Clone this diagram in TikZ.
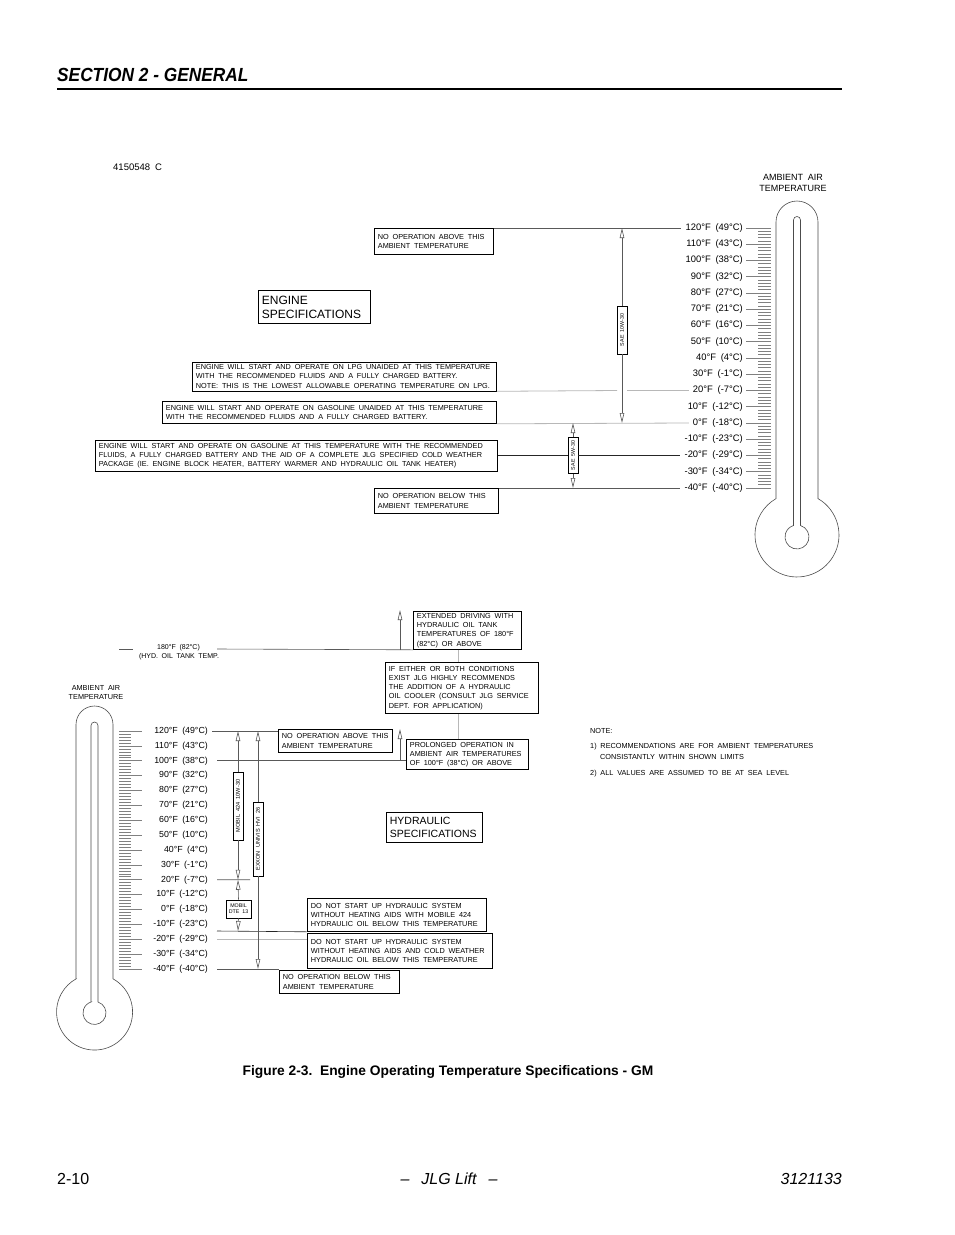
\documentclass[tikz,border=0pt]{standalone}
\usepackage{fontspec}
\setmainfont{Liberation Sans}
\usetikzlibrary{arrows.meta}
\newcommand{\wsp}{\spaceskip=0.52em plus 0.1em\relax}
\newcommand{\boxfont}{\fontsize{7.3}{9.2}\selectfont}
\newcommand{\ambAfont}{\fontsize{9}{11}\selectfont}
\newcommand{\ambBfont}{\fontsize{7.3}{9}\selectfont}
\newcommand{\hydfont}{\fontsize{7}{8}\selectfont}
\begin{document}
\begin{tikzpicture}[x=1pt,y=-1pt,
  conn/.style={draw=black!65,line width=0.6pt},
  lconn/.style={draw=black!28,line width=0.8pt},
  dconn/.style={draw=black!85,line width=0.6pt},
  oarr/.style={draw=black!65,line width=0.6pt,-{Triangle[open,length=10pt,width=4.5pt]}},
  box/.style={draw=black,line width=0.8pt,anchor=north west,align=left,inner xsep=3.5pt,inner ysep=0pt,font=\boxfont,execute at begin node=\wsp},
  lab/.style={inner sep=0pt,font=\fontsize{9.4}{10}\selectfont,anchor=east},
  blab/.style={inner sep=0pt,font=\fontsize{8.8}{10}\selectfont,anchor=east},
  rotlab/.style={draw=black,line width=0.7pt,rotate=90,minimum height=10pt,inner sep=1pt,font=\fontsize{5.3}{6}\selectfont,fill=white},
  thermo/.style={draw=black!70,line width=0.6pt},
  tickm/.style={draw=black!50,line width=0.6pt},
  txt/.style={inner sep=0pt,anchor=west,font=\boxfont,execute at begin node=\wsp},
]
\fill[white] (0,0) rectangle (954,1235);
\useasboundingbox (0,0) rectangle (954,1235);

% ---------- header / footer ----------
\node[anchor=base west,inner sep=0pt,font=\bfseries\itshape\fontsize{19}{20}\selectfont] (head) at (57,81) {\scalebox{0.91}[1]{SECTION 2 - GENERAL}};
\draw[line width=1.6pt] (57,89) -- (842,89);
\node[anchor=center,inner sep=0pt,font=\bfseries\fontsize{13.8}{15}\selectfont] (cap) at (448,1072) {Figure 2-3.\ \ Engine Operating Temperature Specifications - GM};
\node[anchor=base west,inner sep=0pt,font=\fontsize{16}{18}\selectfont] (pg) at (57,1184) {2-10};
\node[anchor=base,inner sep=0pt,font=\itshape\fontsize{16}{18}\selectfont] (jlg) at (449,1184) {--\hspace{0.75em}JLG Lift\hspace{0.75em}--};
\node[anchor=base east,inner sep=0pt,font=\itshape\fontsize{16}{18}\selectfont] (doc) at (842,1184) {3121133};

\node[txt,font=\fontsize{9.5}{10}\selectfont] (dwg) at (113,167) {4150548 C};

% ---------- top thermometer ----------
\node[align=center,inner sep=0pt,font=\ambAfont,execute at begin node=\wsp] (amb1) at (793,182.5) {AMBIENT AIR\\TEMPERATURE};
\draw[thermo] (776,498.6) -- (776,222) arc[start angle=180,end angle=360,radius=21] -- (818,498.6) arc[start angle=-60,end angle=240,radius=42] -- cycle;
\draw[thermo] (793.5,525.5) -- (793.5,220) arc[start angle=180,end angle=360,radius=3.5] -- (800.5,525.5) arc[start angle=-73,end angle=253,radius=12] -- cycle;
\foreach \t in {-40,-38,...,120} \draw[tickm] (758,{228+(120-\t)*1.625}) -- (771,{228+(120-\t)*1.625});
\foreach \t in {-40,-30,...,120} \draw[tickm] (746,{228+(120-\t)*1.625}) -- (771,{228+(120-\t)*1.625});
\foreach \fv/\cv/\nm in {120/49/a120,110/43/a110,100/38/a100,90/32/a90,80/27/a80,70/21/a70,60/16/a60,50/10/a50,40/4/a40,30/-1/a30,20/-7/a20,10/-12/a10,0/-18/a0,-10/-23/am10,-20/-29/am20,-30/-34/am30,-40/-40/am40}
  \node[lab] (\nm) at (743,{228+(120-\fv)*1.625}) {\fv{}°F\enspace(\cv{}°C)};

% ---------- engine boxes ----------
\node[box,text width=112pt,minimum height=26pt] (noabove) at (374,228) {NO OPERATION ABOVE THIS\\AMBIENT TEMPERATURE};
\node[box,font=\fontsize{12}{14}\selectfont,text width=105pt,minimum height=33pt] (engspec) at (258,290) {ENGINE\\SPECIFICATIONS};
\node[box,text width=297pt,minimum height=29pt] (lpg) at (192,361.5) {ENGINE WILL START AND OPERATE ON LPG UNAIDED AT THIS TEMPERATURE\\WITH THE RECOMMENDED FLUIDS AND A FULLY CHARGED BATTERY.\\NOTE: THIS IS THE LOWEST ALLOWABLE OPERATING TEMPERATURE ON LPG.};
\node[box,text width=327pt,minimum height=22pt] (gasun) at (162,401) {ENGINE WILL START AND OPERATE ON GASOLINE UNAIDED AT THIS TEMPERATURE\\WITH THE RECOMMENDED FLUIDS AND A FULLY CHARGED BATTERY.};
\node[box,text width=395pt,minimum height=31pt] (cold) at (95,440) {ENGINE WILL START AND OPERATE ON GASOLINE AT THIS TEMPERATURE WITH THE RECOMMENDED\\FLUIDS, A FULLY CHARGED BATTERY AND THE AID OF A COMPLETE JLG SPECIFIED COLD WEATHER\\PACKAGE (IE. ENGINE BLOCK HEATER, BATTERY WARMER AND HYDRAULIC OIL TANK HEATER)};
\node[box,text width=117pt,minimum height=25pt] (nobelow) at (374,488) {NO OPERATION BELOW THIS\\AMBIENT TEMPERATURE};

\node[rotlab,minimum width=48pt] (sae10) at (622,330) {SAE\ \ 10W-30};
\node[rotlab,minimum width=36pt] (sae5) at (573,455.5) {SAE\ \ 5W-30};
\coordinate (s10t) at (622,228);
\coordinate (s10b) at (622,423);
\coordinate (s5t) at (573,423);
\coordinate (s5b) at (573,488);
\coordinate (gapL) at (617,390.5);
\coordinate (gapR) at (627,390.5);

\draw[conn] (noabove.north east) -- ([xshift=-4pt]a120.west);
\draw[lconn] (lpg.south east) -- (gapL);
\draw[lconn] (gapR) -- ([xshift=-4pt]a20.west);
\draw[lconn] (gasun.south east) -- ([xshift=-4pt]a0.west);
\draw[dconn] (cold.east |- am20.west) -- (sae5.north);
\draw[dconn] (sae5.south) -- ([xshift=-4pt]am20.west);
\draw[conn] (nobelow.north east) -- ([xshift=-4pt]am40.west);
\draw[oarr] (sae10.east) -- (s10t);
\draw[oarr] (sae10.west) -- (s10b);
\draw[oarr] (sae5.east) -- (s5t);
\draw[oarr] (sae5.west) -- (s5b);

% ---------- bottom thermometer ----------
\node[align=center,inner sep=0pt,font=\ambBfont,execute at begin node=\wsp] (amb2) at (96,692.5) {AMBIENT AIR\\TEMPERATURE};
\draw[thermo] (76,978.8) -- (76,724.5) arc[start angle=180,end angle=360,radius=18.5] -- (113,978.8) arc[start angle=-61,end angle=241,radius=38] -- cycle;
\draw[thermo] (91,1002) -- (91,725.5) arc[start angle=180,end angle=360,radius=3.5] -- (98,1002) arc[start angle=-72.3,end angle=252.3,radius=11.5] -- cycle;
\foreach \t in {-40,-38,...,120} \draw[tickm] (119,{731+(120-\t)*1.4875}) -- (131,{731+(120-\t)*1.4875});
\foreach \t in {-40,-30,...,120} \draw[tickm] (119,{731+(120-\t)*1.4875}) -- (142,{731+(120-\t)*1.4875});
\foreach \fv/\cv/\nm in {120/49/b120,110/43/b110,100/38/b100,90/32/b90,80/27/b80,70/21/b70,60/16/b60,50/10/b50,40/4/b40,30/-1/b30,20/-7/b20,10/-12/b10,0/-18/b0,-10/-23/bm10,-20/-29/bm20,-30/-34/bm30,-40/-40/bm40}
  \node[blab] (\nm) at (208,{731+(120-\fv)*1.4875}) {\fv{}°F\enspace(\cv{}°C)};

% ---------- hydraulic boxes ----------
\node[inner sep=0pt,font=\hydfont,execute at begin node=\wsp] (h180) at (178.5,647.5) {180°F (82°C)};
\node[inner sep=0pt,font=\hydfont,execute at begin node=\wsp] (hydtank) at (179,656.5) {(HYD. OIL TANK TEMP.};
\node[box,text width=101pt,minimum height=38pt] (ext) at (413,611) {EXTENDED DRIVING WITH\\HYDRAULIC OIL TANK\\TEMPERATURES OF 180°F\\(82°C) OR ABOVE};
\node[box,text width=146pt,minimum height=51pt] (ifeither) at (385,662) {IF EITHER OR BOTH CONDITIONS\\EXIST JLG HIGHLY RECOMMENDS\\THE ADDITION OF A HYDRAULIC\\OIL COOLER (CONSULT JLG SERVICE\\DEPT. FOR APPLICATION)};
\node[box,text width=115pt,minimum height=30pt] (prolonged) at (406,739) {PROLONGED OPERATION IN\\AMBIENT AIR TEMPERATURES\\OF 100°F (38°C) OR ABOVE};
\node[box,text width=107pt,minimum height=23pt] (noabove2) at (278,729) {NO OPERATION ABOVE THIS\\AMBIENT TEMPERATURE};
\node[box,font=\fontsize{10.5}{12.5}\selectfont,text width=89pt,minimum height=30pt] (hydspec) at (386,812) {HYDRAULIC\\SPECIFICATIONS};
\node[box,text width=172pt,minimum height=33pt] (dns1) at (307,898) {DO NOT START UP HYDRAULIC SYSTEM\\WITHOUT HEATING AIDS WITH MOBILE 424\\HYDRAULIC OIL BELOW THIS TEMPERATURE};
\node[box,text width=178pt,minimum height=35pt] (dns2) at (307,933) {DO NOT START UP HYDRAULIC SYSTEM\\WITHOUT HEATING AIDS AND COLD WEATHER\\HYDRAULIC OIL BELOW THIS TEMPERATURE};
\node[box,text width=113pt,minimum height=23pt] (nobelow2) at (279,970) {NO OPERATION BELOW THIS\\AMBIENT TEMPERATURE};
\node[draw=black,line width=0.8pt,fill=white,minimum width=25pt,minimum height=18pt,inner sep=0pt,align=center,font=\fontsize{5.3}{6.3}\selectfont] (dte13) at (238.5,909) {MOBIL\\DTE\ \ 13};
\node[rotlab,minimum width=68pt,font=\fontsize{5.6}{6}\selectfont] (m424) at (238,806) {MOBIL\ \ 424\ \ 10W-30};
\node[rotlab,minimum width=74pt,font=\fontsize{5.6}{6}\selectfont] (exxon) at (258,839) {EXXON\ \ UNIVIS\ \ HVI\ \ 26};

\node[txt] (note) at (590,731) {NOTE:};
\node[txt] (note1) at (590,747) {1) RECOMMENDATIONS ARE FOR AMBIENT TEMPERATURES};
\node[txt] (note1b) at (600,757) {CONSISTANTLY WITHIN SHOWN LIMITS};
\node[txt] (note2) at (590,774) {2) ALL VALUES ARE ASSUMED TO BE AT SEA LEVEL};

\coordinate (hydL) at (119,649);
\coordinate (hydLe) at (133,649);
\coordinate (hydR) at (217,649);
\coordinate (extup) at (400,610);
\coordinate (gx) at (458,0);
\coordinate (m424t) at (238,731);
\coordinate (m424b) at (238,879.75);
\coordinate (dteb) at (238,931);
\coordinate (exxt) at (258,731);
\coordinate (exxb) at (258,969);
\coordinate (m15) at (217,931);
\coordinate (m20end) at (250,879.75);
\coordinate (pup) at (400,729);

\draw[conn] (hydL) -- (hydLe);
\draw[conn] (ext.south west) -- (hydR);
\draw[oarr] ([xshift=-13pt]ext.south west) -- (extup);
\draw[lconn] (ext.south -| gx) -- (ifeither.north -| gx);
\draw[lconn] (ifeither.south -| gx) -- (prolonged.north -| gx);
\draw[conn] ([xshift=4pt]b120.east) -- (noabove2.west |- b120.east);
\draw[conn] ([xshift=9pt]b100.east) -- (prolonged.west |- b100.east);
\draw[oarr] ([xshift=-6pt]prolonged.west |- b100.east) -- (pup);
\draw[conn] ([xshift=9pt]b20.east) -- (m20end);
\draw[dconn] (m15) -- (dns1.south west);
\draw[lconn] ([xshift=9pt]bm20.east) -- (dns2.west |- bm20.east);
\draw[conn] ([xshift=9pt]bm40.east) -- (nobelow2.west |- bm40.east);
\draw[oarr] (m424.east) -- (m424t);
\draw[oarr] (m424.west) -- (m424b);
\draw[oarr] (dte13.north) -- (m424b);
\draw[oarr] (dte13.south) -- (dteb);
\draw[oarr] (exxon.east) -- (exxt);
\draw[oarr] (exxon.west) -- (exxb);
\end{tikzpicture}
\end{document}
